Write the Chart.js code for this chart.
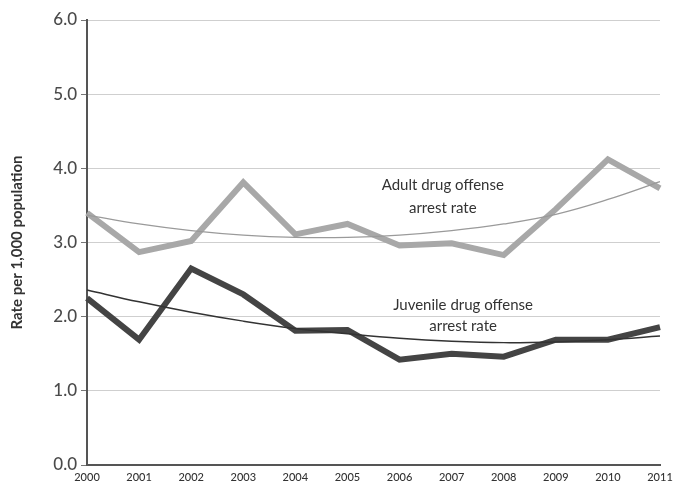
<!DOCTYPE html>
<html>
<head>
<meta charset="utf-8">
<script src="https://cdn.jsdelivr.net/npm/chart.js@4.4.0/dist/chart.umd.min.js"></script>
<style>
  html, body { margin: 0; padding: 0; background: #fff; }
  #wrap { width: 675px; height: 491px; }
</style>
</head>
<body>
<div id="wrap"><canvas id="chart" width="675" height="491"></canvas></div>
<script>
const years = ["2000", "2001", "2002", "2003", "2004", "2005", "2006", "2007", "2008", "2009", "2010", "2011"];
const adultRate = [3.40, 2.87, 3.02, 3.81, 3.11, 3.25, 2.96, 2.99, 2.83, 3.45, 4.12, 3.73];
const juvenileRate = [2.25, 1.69, 2.65, 2.30, 1.81, 1.82, 1.42, 1.50, 1.46, 1.69, 1.69, 1.86];
const adultTrend = [3.37, 3.25, 3.16, 3.10, 3.07, 3.07, 3.10, 3.16, 3.25, 3.38, 3.58, 3.82];
const juvenileTrend = [2.36, 2.20, 2.06, 1.94, 1.84, 1.77, 1.71, 1.67, 1.65, 1.66, 1.69, 1.74];
const yTicks = [0, 1, 2, 3, 4, 5, 6];

const FONT = "Lato, 'Open Sans', sans-serif";

// text labels placed by data position
const notes = [
  { x: 6.83, y: 3.77, text: "Adult drug offense" },
  { x: 6.83, y: 3.46, text: "arrest rate" },
  { x: 7.22, y: 2.16, text: "Juvenile drug offense" },
  { x: 7.22, y: 1.87, text: "arrest rate" }
];

const notePlugin = {
  id: "notes",
  afterDatasetsDraw(chart) {
    const { ctx, scales } = chart;
    ctx.save();
    ctx.font = "15px " + FONT;
    ctx.fillStyle = "#333";
    ctx.textAlign = "center";
    ctx.textBaseline = "middle";
    notes.forEach(n => {
      ctx.fillText(n.text, scales.x.getPixelForValue(n.x), scales.y.getPixelForValue(n.y));
    });
    ctx.restore();
  }
};

new Chart(document.getElementById("chart"), {
  type: "line",
  data: {
    labels: years,
    datasets: [
      { data: adultTrend, borderColor: "#9a9a9a", borderWidth: 1.3, pointRadius: 0, tension: 0.4 },
      { data: juvenileTrend, borderColor: "#333333", borderWidth: 1.5, pointRadius: 0, tension: 0.4 },
      { data: adultRate, borderColor: "#a8a8a8", borderWidth: 6, pointRadius: 0, tension: 0 },
      { data: juvenileRate, borderColor: "#444444", borderWidth: 6, pointRadius: 0, tension: 0 }
    ]
  },
  options: {
    responsive: false,
    animation: false,
    layout: { padding: { top: 20, right: 15, left: 0, bottom: 0 } },
    plugins: { legend: { display: false }, tooltip: { enabled: false } },
    scales: {
      x: {
        type: "category",
        offset: false,
        grid: { display: false, drawOnChartArea: false, tickLength: 4, tickColor: "#999" },
        border: { color: "#555", width: 2 },
        ticks: { color: "#333", font: { family: FONT, size: 11, weight: "500" }, padding: 2, maxRotation: 0 },
        afterFit(axis) { axis.height = 26; }
      },
      y: {
        min: 0,
        max: 6,
        afterBuildTicks(axis) { axis.ticks = yTicks.map(v => ({ value: v })); },
        grid: { color: "#cfcfcf", lineWidth: 1, tickLength: 6, tickColor: "#777" },
        border: { color: "#555", width: 2 },
        ticks: {
          color: "#4a4a4a",
          font: { family: FONT, size: 17, weight: "500" },
          padding: 4,
          callback: v => v.toFixed(1)
        },
        title: {
          display: true,
          text: "Rate per 1,000 population",
          color: "#333",
          font: { family: FONT, size: 15, weight: "bold" },
          padding: { top: 8, bottom: 0 }
        },
        afterFit(axis) { axis.width = 87; }
      }
    }
  },
  plugins: [notePlugin]
});
</script>
</body>
</html>
